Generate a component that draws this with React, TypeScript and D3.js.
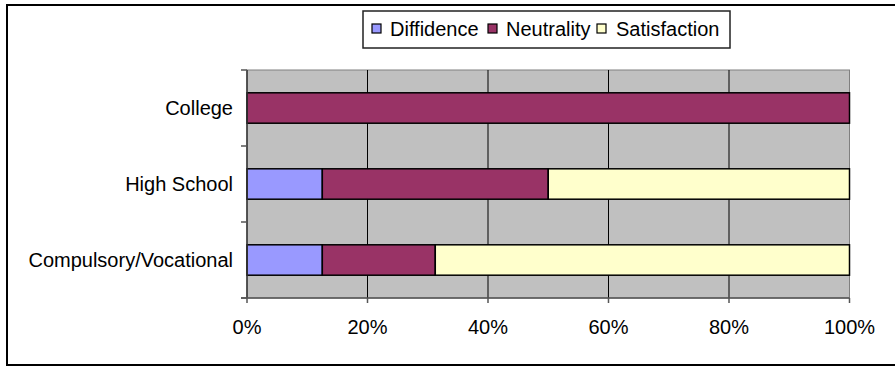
import React from "react";
import * as d3 from "d3";

const categories = ["College", "High School", "Compulsory/Vocational"];
const seriesNames = ["Diffidence", "Neutrality", "Satisfaction"];
const diffidence = [0, 12.5, 12.5];
const neutrality = [100, 37.5, 18.75];
const satisfaction = [0, 50, 68.75];
const xTicks = [0, 20, 40, 60, 80, 100];
const colors = ["#9999FF", "#993366", "#FFFFCC"];

const W = 895, H = 367;
const plot = { left: 247, right: 849.5, top: 70, bottom: 298 };
const FONT = "'Liberation Sans', Arial, sans-serif";
const FS = 20;

export default function App() {
  const x = d3.scaleLinear().domain([0, 100]).range([plot.left, plot.right]);
  const y = d3.scaleBand().domain(categories).range([plot.top, plot.bottom]).paddingInner(0).paddingOuter(0);
  const bw = y.bandwidth();
  const barH = bw / 2.5;
  const series = [diffidence, neutrality, satisfaction];
  const rows = categories.map((c, i) => {
    let acc = 0;
    return series.map((s, k) => {
      const x0 = acc;
      acc += s[i];
      return { c, k, x0, x1: acc, v: s[i] };
    });
  });
  const legendItems = [
    { name: seriesNames[0], sx: 372, tx: 390 },
    { name: seriesNames[1], sx: 488, tx: 506 },
    { name: seriesNames[2], sx: 597, tx: 616 },
  ];
  const boundaries = categories.map((c) => y(c)!).concat([plot.bottom]);
  return (
    <svg width={W} height={H} style={{ position: "absolute", left: 0, top: 0 }} fontFamily={FONT}>
      <rect x={0} y={0} width={W} height={H} fill="#fff" />
      {/* outer frame */}
      <line x1={7} y1={5} x2={W} y2={5} stroke="#000" strokeWidth={2} />
      <line x1={7} y1={4} x2={7} y2={366} stroke="#000" strokeWidth={2} />
      <line x1={7} y1={365} x2={W} y2={365} stroke="#000" strokeWidth={2} />
      {/* plot background */}
      <rect x={plot.left} y={plot.top} width={plot.right - plot.left} height={plot.bottom - plot.top} fill="#C0C0C0" stroke="#808080" strokeWidth={1} />
      {xTicks.slice(1, -1).map((t) => (
        <line key={t} x1={x(t)} x2={x(t)} y1={plot.top} y2={plot.bottom} stroke="#000" strokeWidth={1} />
      ))}
      {/* bars */}
      {rows.map((r) =>
        r.filter((d) => d.v > 0).map((d) => (
          <rect
            key={d.c + d.k}
            x={x(d.x0)}
            width={x(d.x1) - x(d.x0)}
            y={y(d.c)! + (bw - barH) / 2}
            height={barH}
            fill={colors[d.k]}
            stroke="#000"
            strokeWidth={1.5}
          />
        ))
      )}
      {/* axes */}
      <line x1={plot.left} x2={plot.left} y1={plot.top} y2={plot.bottom} stroke="#333" strokeWidth={1.5} />
      <line x1={plot.left - 6} x2={plot.right} y1={plot.bottom} y2={plot.bottom} stroke="#555" strokeWidth={1.5} />
      {boundaries.map((b, i) => (
        <line key={i} x1={plot.left - 6} x2={plot.left} y1={b} y2={b} stroke="#555" strokeWidth={1.5} />
      ))}
      {xTicks.map((t) => (
        <line key={t} x1={x(t)} x2={x(t)} y1={plot.bottom} y2={plot.bottom + 5} stroke="#555" strokeWidth={1.5} />
      ))}
      {xTicks.map((t) => (
        <text key={t} x={x(t)} y={334} textAnchor="middle" fontSize={FS} fill="#000">{t}%</text>
      ))}
      {categories.map((c) => (
        <text key={c} x={233} y={y(c)! + bw / 2 + 7} textAnchor="end" fontSize={FS} fill="#000">{c}</text>
      ))}
      {/* legend */}
      <rect x={363} y={11} width={367} height={37} fill="#fff" stroke="#222" strokeWidth={1.5} />
      {legendItems.map((l, i) => (
        <g key={l.name}>
          <rect x={l.sx} y={24} width={9} height={9} fill={colors[i]} stroke="#000" strokeWidth={1.2} />
          <text x={l.tx} y={36} fontSize={FS} fill="#000">{l.name}</text>
        </g>
      ))}
    </svg>
  );
}
